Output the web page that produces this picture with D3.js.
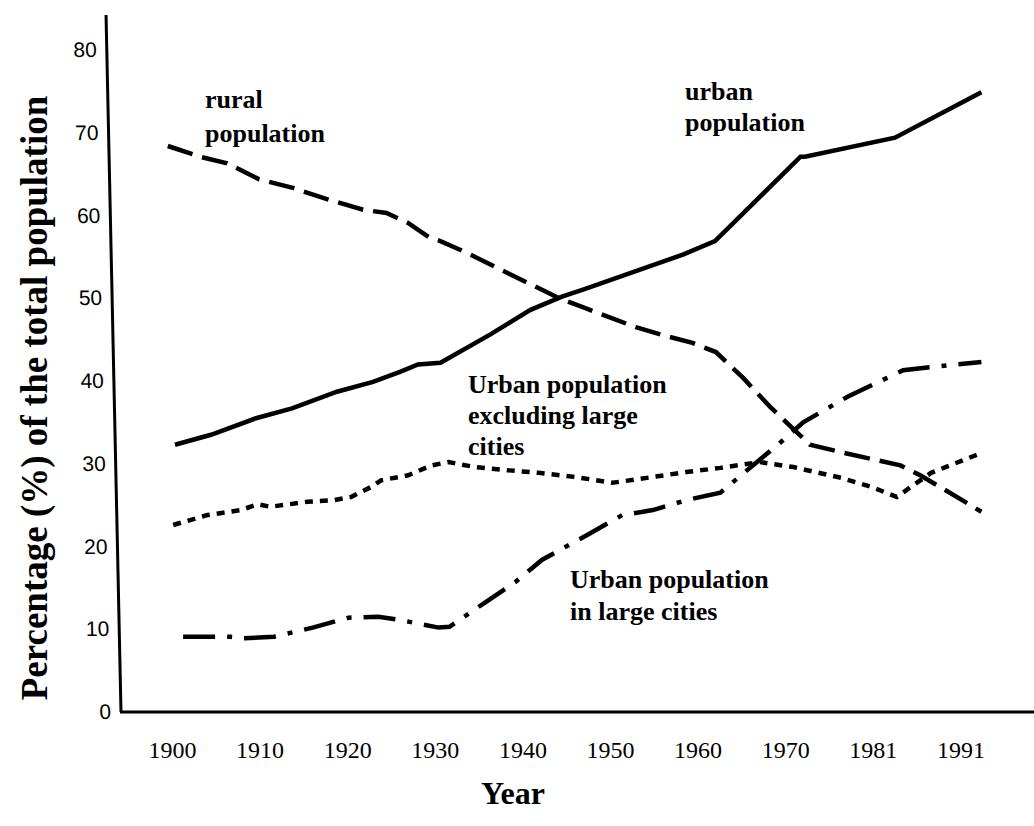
<!DOCTYPE html>
<html>
<head>
<meta charset="utf-8">
<script src="https://cdn.jsdelivr.net/npm/d3@7"></script>
<style>
    body { margin: 0; background: #fff; }
    svg { display: block; }
    .ylab text { font-family: "Liberation Sans", Arial, sans-serif; font-size: 21px; fill: #000; }
    .xlab text { font-family: "Liberation Serif", "Times New Roman", serif; font-size: 24px; fill: #000; }
    .note { font-family: "Liberation Serif", "Times New Roman", serif; font-weight: bold; font-size: 26px; fill: #000; }
    .title { font-family: "Liberation Serif", "Times New Roman", serif; font-weight: bold; fill: #000; }
</style>
</head>
<body>
<svg id="chart"></svg>
<script>
// tick labels on the x axis (evenly spaced, as in the original figure)
const years = [1900, 1910, 1920, 1930, 1940, 1950, 1960, 1970, 1981, 1991];
const yTicks = [0, 10, 20, 30, 40, 50, 60, 70, 80];

// series: [year, percent]
const urban = [[1900, 32.3], [1904, 33.5], [1909, 35.5], [1913, 36.7], [1918, 38.7], [1922, 39.9],
    [1925, 41.1], [1927, 42.0], [1929.5, 42.2], [1935, 45.6], [1939.5, 48.6], [1943, 50.2],
    [1945.5, 51.1], [1956.5, 55.3], [1960, 56.9], [1969.5, 67.1], [1970, 67.1], [1981, 69.4], [1990.6, 74.9]];

const rural = [[1899.2, 68.4], [1902.8, 67.1], [1905.8, 66.3], [1909.3, 64.4], [1913.2, 63.3], [1916.8, 62.0],
    [1920.9, 60.7], [1923.5, 60.3], [1925.9, 59.1], [1928.2, 57.4], [1929.3, 57.0], [1932.2, 55.6],
    [1936.3, 53.4], [1939.3, 51.8], [1942.7, 50.0], [1945.6, 48.8], [1951.2, 46.5], [1954, 45.6],
    [1957.5, 44.6], [1960.1, 43.5], [1963.1, 40.4], [1966.1, 36.9], [1969.1, 33.8], [1970.6, 32.3],
    [1974.4, 31.4], [1981.6, 29.8], [1983.8, 28.6], [1986, 27.2], [1990.6, 24.2]];

const urbanSmall = [[1899.8, 22.6], [1903.6, 23.8], [1907.3, 24.4], [1909.2, 25.1], [1910.6, 24.8],
    [1914.7, 25.4], [1917.7, 25.6], [1919.6, 26.0], [1921.8, 27.2], [1922.9, 28.0], [1925.9, 28.6],
    [1928.5, 29.8], [1930.4, 30.2], [1933.3, 29.6], [1937.1, 29.2], [1940.4, 28.9], [1944.5, 28.4],
    [1948.6, 27.7], [1953.1, 28.4], [1956.8, 29.0], [1960.6, 29.5], [1965, 30.2], [1968.7, 29.6],
    [1974.4, 28.3], [1978.1, 27.2], [1981.2, 26.0], [1985, 28.9], [1990.6, 31.3]];

const urbanLarge = [[1900.9, 9.1], [1906.1, 9.1], [1907.6, 8.9], [1911, 9.1], [1915.3, 10.2], [1919.3, 11.4],
    [1922.6, 11.5], [1925.1, 11.1], [1929.3, 10.2], [1930.5, 10.3], [1934.4, 13.2], [1937.8, 15.7],
    [1940.8, 18.4], [1945.8, 21.4], [1949.7, 23.8], [1953.1, 24.4], [1956.8, 25.6], [1960.6, 26.5],
    [1964.2, 29.8], [1967.3, 32.6], [1969.8, 35.0], [1975.2, 38.1], [1981.9, 41.3], [1986.9, 41.9], [1990.6, 42.3]];

const width = 1034;
const height = 826;
const x0 = 175, step = 90;          // data slots
const lab0 = 172, labStep = 87.6;   // printed year labels sit a bit tighter than the data
const yBottom = 712, yTop = 50;     // pixel rows for 0 and 80

const svg = d3.select("#chart")
    .attr("width", width)
    .attr("height", height);

// polylinear scale: each listed year sits on its own evenly spaced slot
const x = d3.scaleLinear()
    .domain(years)
    .range(years.map((d, i) => x0 + i * step));

const xLabels = d3.scalePoint()
    .domain(years)
    .range([lab0, lab0 + labStep * (years.length - 1)]);

const y = d3.scaleLinear()
    .domain([0, 80])
    .range([yBottom, yTop]);

// y axis (the scanned axis leans slightly, so the group is skewed)
const yAxisG = svg.append("g")
    .attr("class", "ylab")
    .attr("transform", `translate(121,${yBottom}) skewX(1.23) translate(0,${-yBottom})`)
    .call(d3.axisLeft(y).tickValues(yTicks).tickSize(0).tickPadding(10));
yAxisG.select(".domain").remove();
yAxisG.append("line")
    .attr("x1", 0).attr("x2", 0)
    .attr("y1", yBottom).attr("y2", 15)
    .attr("stroke", "#000")
    .attr("stroke-width", 3);

// x axis
const xAxisG = svg.append("g")
    .attr("class", "xlab")
    .attr("transform", `translate(0,${yBottom})`)
    .call(d3.axisBottom(xLabels).tickFormat(d3.format("d")).tickSize(0));
xAxisG.select(".domain").remove();
xAxisG.selectAll("text").attr("y", 46).attr("dy", 0);
xAxisG.append("line")
    .attr("x1", 120).attr("x2", width)
    .attr("y1", 0).attr("y2", 0)
    .attr("stroke", "#000")
    .attr("stroke-width", 3);

const line = d3.line()
    .x(d => x(d[0]))
    .y(d => y(d[1]));

const series = [
    { data: urban, dash: null },
    { data: rural, dash: "26,10" },
    { data: urbanSmall, dash: "8,7" },
    { data: urbanLarge, dash: "32,12,5,12" }
];

svg.selectAll(".series")
    .data(series)
    .enter()
    .append("path")
    .attr("class", "series")
    .attr("d", d => line(d.data))
    .attr("fill", "none")
    .attr("stroke", "#000")
    .attr("stroke-width", 4.5)
    .attr("stroke-dasharray", d => d.dash);

// annotations
const notes = [
    { x: 205, y: 108, gap: 34, lines: ["rural", "population"] },
    { x: 685, y: 100, gap: 31, lines: ["urban", "population"] },
    { x: 468, y: 393, gap: 31, lines: ["Urban population", "excluding large", "cities"] },
    { x: 570, y: 588, gap: 32, lines: ["Urban population", "in large cities"] }
];

notes.forEach(n => {
    const t = svg.append("text").attr("class", "note");
    n.lines.forEach((s, i) => {
        t.append("tspan")
            .attr("x", n.x)
            .attr("y", n.y + i * n.gap)
            .text(s);
    });
});

// axis titles
svg.append("text")
    .attr("class", "title")
    .attr("transform", "translate(47,398) rotate(-90)")
    .attr("text-anchor", "middle")
    .style("font-size", "37px")
    .text("Percentage (%) of the total population");

svg.append("text")
    .attr("class", "title")
    .attr("x", 513)
    .attr("y", 804)
    .attr("text-anchor", "middle")
    .style("font-size", "32px")
    .text("Year");
</script>
</body>
</html>
